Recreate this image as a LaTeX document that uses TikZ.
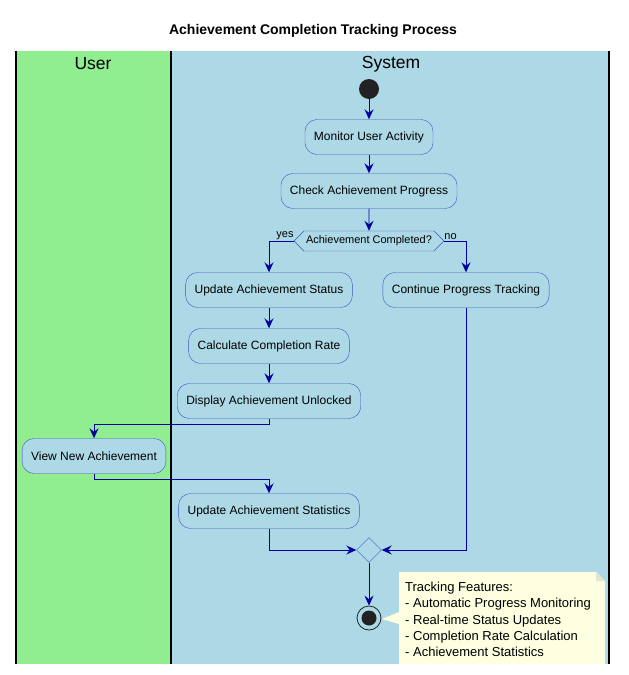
\documentclass[tikz,border=0pt]{standalone}
\usepackage{fontspec}
\setmainfont{Liberation Sans}
\usepackage{xcolor}
\usepackage{tikz}
\usetikzlibrary{positioning,arrows.meta,shapes.geometric,shapes.symbols}
\definecolor{userlane}{RGB}{144,238,144}
\definecolor{syslane}{RGB}{173,216,230}
\definecolor{flowblue}{RGB}{0,0,160}
\definecolor{edgeblue}{RGB}{60,85,200}
\definecolor{notefill}{RGB}{254,254,224}
\definecolor{dotgray}{RGB}{34,34,34}

\begin{document}
\begin{tikzpicture}[x=1pt,y=-1pt,
		actbox/.style={draw=edgeblue,fill=syslane,rounded corners=12pt,minimum height=35pt,inner xsep=9pt,font=\fontsize{12}{14}\selectfont},
		flow/.style={draw=flowblue,line width=0.9pt,-{Stealth[length=10pt,width=9pt,inset=3.5pt]}},
		lbl/.style={font=\fontsize{11}{13}\selectfont,inner sep=1pt}]
				\useasboundingbox (0,0) rectangle (629,675);
				% lanes
				\fill[userlane] (16,51) rectangle (171,664);
				\fill[syslane] (171,51) rectangle (609,664);
				\foreach \lx in {16,171,609}{
					\draw[line width=1.2pt] (\lx,51) -- (\lx,664);
				}
				\node[font=\bfseries\fontsize{14}{16}\selectfont] (title) at (313,31) {Achievement Completion Tracking Process};
				\node[font=\fontsize{17.5}{20}\selectfont] (userhead) at (93,64) {User};
				\node[font=\fontsize{17.5}{20}\selectfont] (syshead) at (391,64) {System};
				% activities
				\node[circle,fill=dotgray,minimum size=20pt,inner sep=0pt] (start) at (369,89) {};
				\node[actbox] (monitor) at (369,137) {Monitor User Activity};
				\node[actbox] (check) at (369,191) {Check Achievement Progress};
				\node[signal,signal to=west and east,draw=edgeblue,fill=syslane,minimum height=20pt,inner xsep=2pt,inner ysep=1pt,font=\fontsize{11}{13}\selectfont] (decide) at (369,241) {Achievement Completed?};
				\node[actbox] (upstatus) at (269,290) {Update Achievement Status};
				\node[actbox] (continue) at (466,290) {Continue Progress Tracking};
				\node[actbox] (calcrate) at (269,346) {Calculate Completion Rate};
				\node[actbox] (display) at (269,401) {Display Achievement Unlocked};
				\node[actbox] (viewnew) at (94,456) {View New Achievement};
				\node[actbox] (upstats) at (269,511) {Update Achievement Statistics};
				\node[diamond,draw=edgeblue,fill=syslane,minimum size=25pt,inner sep=0pt] (merge) at (369,550) {};
				\node[circle,draw=dotgray,line width=0.8pt,fill=syslane,minimum size=24pt,inner sep=0pt] (stop) at (369,618) {};
				\fill[dotgray] (stop) circle (7.5);
				% branch labels
				\node[lbl,anchor=south east] (yeslbl) at ([xshift=1pt,yshift=0pt]decide.west) {yes};
				\node[lbl,anchor=south west] (nolbl) at ([xshift=-1pt]decide.east) {no};
				% connectors
				\draw[flow] (start) -- (monitor);
				\draw[flow] (monitor) -- (check);
				\draw[flow] (check) -- (decide);
				\draw[flow] (decide.west) -| (upstatus.north);
				\draw[flow] (decide.east) -| (continue.north);
				\draw[flow] (upstatus) -- (calcrate);
				\draw[flow] (calcrate) -- (display);
				\draw[flow] (display.south) -- ++(0,6) -| (viewnew.north);
				\draw[flow] (viewnew.south) -- ++(0,6) -| (upstats.north);
				\draw[flow] (upstats.south) |- (merge.west);
				\draw[flow] (continue.south) |- (merge.east);
				\draw[flow] (merge.south) -- (stop.north);
				% note
				\fill[notefill] (399,572) -- (596,572) -- (605,581) -- (605,664) -- (399,664) -- (399,624) -- (382,619) -- (399,612) -- cycle;
				\fill[notefill!80!gray] (596,572) -- (596,581) -- (605,581) -- cycle;
				\node[anchor=north west,align=left,inner sep=0pt,font=\fontsize{13}{16.3}\selectfont] (features) at (405,582) {Tracking Features:\\- Automatic Progress Monitoring\\- Real-time Status Updates\\- Completion Rate Calculation\\- Achievement Statistics};
\end{tikzpicture}
\end{document}
